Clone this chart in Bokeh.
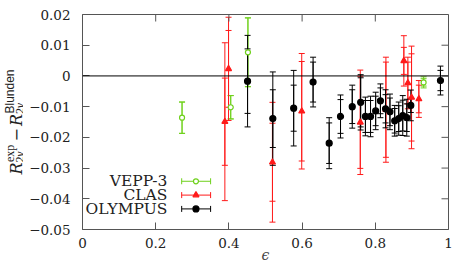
from math import pi
from bokeh.plotting import figure
from bokeh.layouts import row
from bokeh.models import (ColumnDataSource, Whisker, TeeHead, Span, Label,
                          FixedTicker, Range1d)
from bokeh.embed import file_html
from bokeh.resources import INLINE

# ---------------- data ----------------
vepp_eps   = [0.272, 0.405, 0.452, 0.932]
vepp_val   = [-0.0136, -0.0102, 0.0077, -0.0021]
vepp_stat  = [0.0051, 0.0038, 0.0112, 0.0012]
vepp_total = [0.0051, 0.0038, 0.0112, 0.0018]

clas_eps   = [0.389, 0.399, 0.519, 0.599, 0.759, 0.829, 0.878, 0.889, 0.899, 0.919]
clas_val   = [-0.0149, 0.0023, -0.0281, -0.0115, -0.0151, -0.0110, 0.0049, -0.0023, -0.0070, -0.0075]
clas_stat  = [0.0142, 0.0125, 0.0127, 0.0162, 0.0150, 0.0155, 0.0044, 0.0068, 0.0142, 0.0045]
clas_total = [0.0257, 0.0168, 0.0195, 0.0188, 0.0170, 0.0171, 0.0082, 0.0084, 0.0167, 0.0060]

oly_eps   = [0.451, 0.520, 0.577, 0.630, 0.674, 0.705, 0.737, 0.760, 0.773, 0.787,
             0.801, 0.814, 0.828, 0.840, 0.853, 0.864, 0.875, 0.886, 0.897, 0.978]
oly_val   = [-0.0017, -0.0139, -0.0105, -0.0020, -0.0219, -0.0132, -0.0100, -0.0086, -0.0132, -0.0132,
             -0.0114, -0.0081, -0.0107, -0.0117, -0.0146, -0.0139, -0.0129, -0.0136, -0.0096, -0.0015]
oly_stat  = [0.0105, 0.0094, 0.0075, 0.0065, 0.0066, 0.0055, 0.0055, 0.0080, 0.0052, 0.0052,
             0.0048, 0.0042, 0.0046, 0.0045, 0.0040, 0.0042, 0.0050, 0.0045, 0.0023, 0.0033]
oly_total = [0.0149, 0.0152, 0.0123, 0.0081, 0.0083, 0.0070, 0.0070, 0.0090, 0.0063, 0.0066,
             0.0061, 0.0055, 0.0062, 0.0058, 0.0050, 0.0054, 0.0065, 0.0060, 0.0050, 0.0047]

x_ticks = [0, 0.2, 0.4, 0.6, 0.8, 1]
x_tick_labels = ["0", "0.2", "0.4", "0.6", "0.8", "1"]
y_ticks = [-0.05, -0.04, -0.03, -0.02, -0.01, 0, 0.01, 0.02]
y_tick_labels = ["\u22120.05", "\u22120.04", "\u22120.03", "\u22120.02", "\u22120.01", "0", "0.01", "0.02"]
x_lo, x_hi = 0, 1
y_lo, y_hi = -0.05, 0.02

series_names = ["VEPP-3", "CLAS", "OLYMPUS"]
colors = ["#6fd11c", "#ff1a1a", "#000000"]

# legend layout (decoration, in data units)
legend_text_x = 0.232
legend_mark_x = 0.310
legend_bar_lo = 0.271
legend_bar_hi = 0.350
legend_rows = [-0.0343, -0.0388, -0.0433]

SERIF = "DejaVu Serif"
FRAME_C = "#555555"
TEXT_C = "#222222"
LAB_W = 23          # left strip holding the y label
H = 267
TOP_B, BOT_B = 14, 38
FRAME_H = H - TOP_B - BOT_B

p = figure(width=457 - LAB_W, height=H, output_backend="svg", toolbar_location=None,
           x_range=Range1d(x_lo, x_hi), y_range=Range1d(y_lo, y_hi),
           min_border_left=82 - LAB_W, min_border_right=9, min_border_top=TOP_B, min_border_bottom=BOT_B)
p.grid.visible = False
p.outline_line_color = FRAME_C
p.outline_line_width = 1

for ax, ticks, labels in ((p.xaxis[0], x_ticks, x_tick_labels), (p.yaxis[0], y_ticks, y_tick_labels)):
    ax.ticker = FixedTicker(ticks=ticks)
    ax.major_label_overrides = {t: l for t, l in zip(ticks, labels)}
    ax.major_tick_in = 7
    ax.major_tick_out = 0
    ax.minor_tick_line_color = None
    ax.axis_line_color = None
    ax.major_tick_line_color = FRAME_C
    ax.major_label_text_font = SERIF
    ax.major_label_text_color = TEXT_C
    ax.major_label_text_font_size = "13.5px"
p.xaxis[0].major_label_standoff = 8
p.yaxis[0].major_label_standoff = 12
p.xaxis[0].axis_label = "\u03f5"
p.xaxis[0].axis_label_text_font = SERIF
p.xaxis[0].axis_label_text_font_style = "italic"
p.xaxis[0].axis_label_text_font_size = "14px"
p.xaxis[0].axis_label_standoff = -4

# mirrored ticks on the top and right edges of the frame (pointing inwards)
p.ray(x=x_ticks, y=[y_hi] * len(x_ticks), length=7, length_units="screen",
      angle=-pi / 2, line_color=FRAME_C, line_width=1)
p.ray(x=[x_hi] * len(y_ticks), y=y_ticks, length=7, length_units="screen",
      angle=pi, line_color=FRAME_C, line_width=1)

p.add_layout(Span(location=0, dimension="width", line_color="black", line_width=1))

def add_series(eps, val, stat, total, color, marker, size, fill):
    src = ColumnDataSource(dict(
        x=eps, y=val,
        lo_t=[v - e for v, e in zip(val, total)], hi_t=[v + e for v, e in zip(val, total)],
        lo_s=[v - e for v, e in zip(val, stat)], hi_s=[v + e for v, e in zip(val, stat)],
    ))
    for lo, hi in (("lo_t", "hi_t"), ("lo_s", "hi_s")):
        p.add_layout(Whisker(base="x", lower=lo, upper=hi, source=src, dimension="height",
                             line_color=color, line_width=1,
                             upper_head=TeeHead(size=6, line_color=color, line_width=1),
                             lower_head=TeeHead(size=6, line_color=color, line_width=1)))
    p.scatter("x", "y", source=src, marker=marker, size=size, line_color=color,
              fill_color=fill, line_width=1.2)

add_series(vepp_eps, vepp_val, vepp_stat, vepp_total, colors[0], "circle", 5, "white")
add_series(clas_eps, clas_val, clas_stat, clas_total, colors[1], "triangle", 6, colors[1])
add_series(oly_eps, oly_val, oly_stat, oly_total, colors[2], "circle", 6, colors[2])

# legend (text left of symbol, as in the reference)
markers = [("circle", 5, "white"), ("triangle", 6, colors[1]), ("circle", 6, colors[2])]
for name, col, yrow, (mk, sz, fc) in zip(series_names, colors, legend_rows, markers):
    lsrc = ColumnDataSource(dict(x=[legend_mark_x], y=[yrow], lo=[legend_bar_lo], hi=[legend_bar_hi]))
    p.add_layout(Whisker(base="y", lower="lo", upper="hi", source=lsrc, dimension="width",
                         line_color=col, line_width=1,
                         upper_head=TeeHead(size=6, line_color=col, line_width=1),
                         lower_head=TeeHead(size=6, line_color=col, line_width=1)))
    p.scatter("x", "y", source=lsrc, marker=mk, size=sz, line_color=col, fill_color=fc, line_width=1.2)
    p.add_layout(Label(x=legend_text_x, y=yrow, text=name, text_align="right",
                       text_baseline="middle", text_font=SERIF, text_font_size="15.5px",
                       text_color=TEXT_C))

# ---- left strip: y label R^exp_{2γ} − R^Blunden_{2γ} ----
# its frame is aligned with the main frame by the row, so it shares the y range
lab = figure(width=LAB_W, height=H, output_backend="svg", toolbar_location=None,
             x_range=Range1d(0, LAB_W), y_range=Range1d(y_lo, y_hi),
             x_axis_type=None, y_axis_type=None, min_border=0)
lab.min_border_left = lab.min_border_right = 0
lab.min_border_top, lab.min_border_bottom = TOP_B, BOT_B
lab.grid.visible = False
lab.outline_line_color = None

def ylab(text, px, py, size, style="normal", font="Liberation Serif"):
    yd = y_hi - (py - TOP_B) * (y_hi - y_lo) / FRAME_H
    lab.add_layout(Label(x=px, y=yd, x_units="screen", y_units="data", text=text,
                         angle=pi / 2, text_align="left", text_baseline="alphabetic",
                         text_font=font, text_font_style=style, text_font_size=size,
                         text_color=TEXT_C))

MAIN, SCR = "16px", "12px"
ylab("R", 15.5, 174, MAIN, "italic", SERIF)
ylab("exp", 9.5, 161.5, SCR)
ylab("2", 19.5, 162, SCR)
ylab("\u03b3", 19.5, 156, SCR, "italic")
ylab("\u2212", 15.5, 141, MAIN, "normal", SERIF)
ylab("R", 15.5, 125.5, MAIN, "italic", SERIF)
ylab("Blunden", 9.5, 113, SCR, "normal", "Liberation Sans")
ylab("2", 19.5, 113.5, SCR)
ylab("\u03b3", 19.5, 107.5, SCR, "italic")

open("out.html", "w").write(file_html(row(lab, p), INLINE))
